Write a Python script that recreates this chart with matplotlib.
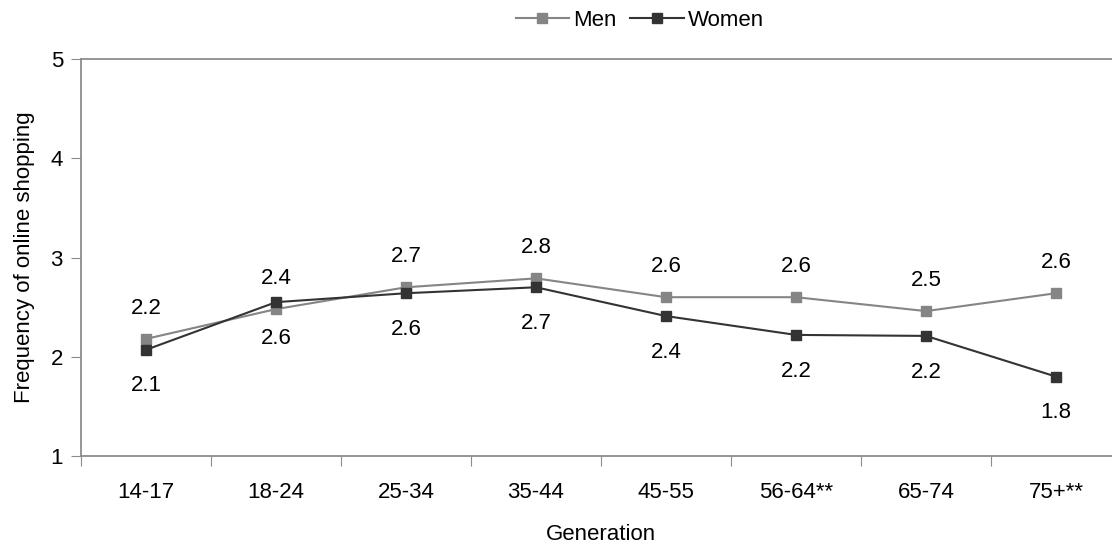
import matplotlib.pyplot as plt
from matplotlib.lines import Line2D

generations = ['14-17', '18-24', '25-34', '35-44', '45-55', '56-64**', '65-74', '75+**']
men = [2.18, 2.48, 2.70, 2.79, 2.60, 2.60, 2.46, 2.64]
women = [2.07, 2.55, 2.64, 2.70, 2.41, 2.22, 2.21, 1.80]
men_labels = ['2.2', '2.4', '2.7', '2.8', '2.6', '2.6', '2.5', '2.6']
women_labels = ['2.1', '2.6', '2.6', '2.7', '2.4', '2.2', '2.2', '1.8']

plt.rcParams['font.family'] = ['Liberation Sans', 'DejaVu Sans']
fs = 16
men_color = '#858585'
women_color = '#333333'
axis_color = '#8c8c8c'

fig = plt.figure(figsize=(11.12, 5.46), dpi=100)
ax = fig.add_axes([81 / 1112, 90 / 546, 1040 / 1112, 397 / 546])

x = list(range(len(generations)))
ax.plot(x, men, color=men_color, lw=1.5, marker='s', ms=7.5, mec=men_color, zorder=3)
ax.plot(x, women, color=women_color, lw=1.5, marker='s', ms=7.5, mec=women_color, zorder=3)

box = dict(boxstyle='square,pad=0.1', fc='white', ec='none')
for i in x:
    ax.annotate(men_labels[i], (i, men[i]), xytext=(0, 22), textcoords='offset points',
                ha='center', va='center', fontsize=fs, bbox=box, zorder=4)
    ax.annotate(women_labels[i], (i, women[i]), xytext=(0, -26), textcoords='offset points',
                ha='center', va='center', fontsize=fs, bbox=box, zorder=4)

ax.set_xlim(-0.5, len(generations) - 0.5)
ax.set_ylim(1, 5)
ax.set_yticks([1, 2, 3, 4, 5])
ax.set_xticks([i + 0.5 for i in x[:-1]] + [-0.5])
ax.set_xticklabels([])
ax.set_xticks(x, minor=True)
ax.set_xticklabels(generations, minor=True, fontsize=fs)
ax.tick_params(axis='x', which='minor', length=0, pad=19)
ax.tick_params(axis='x', which='major', length=7, color=axis_color, direction='out')
ax.tick_params(axis='y', length=7, color=axis_color, labelsize=fs, pad=6)

for s in ['right']:
    ax.spines[s].set_visible(False)
for s in ['left', 'bottom', 'top']:
    ax.spines[s].set_color(axis_color)
    ax.spines[s].set_linewidth(1.3)

ax.set_xlabel('Generation', fontsize=fs, labelpad=15)
ax.set_ylabel('Frequency of online shopping', fontsize=fs, labelpad=11)

handles = [Line2D([], [], color=men_color, lw=1.5, marker='s', ms=7.5),
           Line2D([], [], color=women_color, lw=1.5, marker='s', ms=7.5)]
fig.legend(handles, ['Men', 'Women'], loc='center', bbox_to_anchor=(640 / 1112, 1 - 20 / 546),
           ncol=2, frameon=False, fontsize=fs, handlelength=2.4, handletextpad=0.2,
           columnspacing=0.6)

fig.savefig('out.png', dpi=100)
